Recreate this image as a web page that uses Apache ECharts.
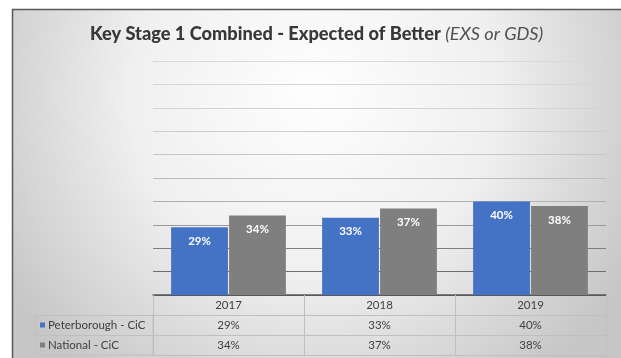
<!DOCTYPE html>
<html>
<head>
<meta charset="utf-8">
<script src="https://cdn.jsdelivr.net/npm/echarts@6/dist/echarts.min.js"></script>
<style>
  html, body { margin: 0; padding: 0; background: #ffffff; }
  #chart { width: 621px; height: 358px; }
</style>
</head>
<body>
<div id="chart"></div>
<script>
// Key Stage 1 results for children in care
const years = ['2017', '2018', '2019'];
const seriesNames = ['Peterborough - CiC', 'National - CiC'];
const peterborough = [29, 33, 40];
const national = [34, 37, 38];
const valueMin = 0;
const valueMax = 100;
const valueStep = 10;

const FONT = 'Lato, "Open Sans", sans-serif';
const TEXT = '#404040';
const TABLE_LINE = '#bfbfbf';
const pct = v => v + '%';

// Plot area and data-table layout
const PLOT = { left: 153, right: 15, top: 61, bottom: 63 };
const ROW_H = 20;
const TABLE_FONT = 11.5;

const chart = echarts.init(document.getElementById('chart'), null, { renderer: 'canvas' });

// grid lines fade from dark near the base to light at the top
const gridColors = ['#595959', '#6e6e6e', '#7e7e7e', '#9a9a9a', '#b0b0b0',
                    '#bdbdbd', '#c6c6c6', '#cdcdcd', '#d2d2d2', '#d6d6d6', '#d9d9d9'];

function tableAxis(offset, rows, showLine) {
  return {
    type: 'category',
    data: years,
    gridIndex: 0,
    position: 'bottom',
    offset: offset,
    axisLine: { show: showLine, lineStyle: { color: TABLE_LINE, width: 1 } },
    axisTick: { show: false },
    axisLabel: {
      show: !!rows,
      margin: 0,
      lineHeight: ROW_H,
      color: TEXT,
      fontFamily: FONT,
      fontSize: TABLE_FONT,
      formatter: (v, i) => rows ? pct(rows[i]) : ''
    },
    splitLine: { show: false }
  };
}

const option = {
  backgroundColor: '#ffffff',
  animation: false,
  textStyle: { fontFamily: FONT },
  title: {
    left: 85,
    top: 20,
    text: '{b|Key Stage 1 Combined - Expected of Better} {i|(EXS or GDS)}',
    textStyle: {
      rich: {
        b: { fontFamily: FONT, fontSize: 18.2, fontWeight: 900, color: '#383838' },
        i: { fontFamily: FONT, fontSize: 18.2, fontStyle: 'italic', fontWeight: 'normal', color: '#505050' }
      }
    }
  },
  legend: {
    orient: 'vertical',
    left: 40,
    top: PLOT.top + 234 + ROW_H,
    padding: 0,
    itemGap: 0,
    icon: 'rect',
    itemWidth: 5,
    itemHeight: 5,
    selectedMode: false,
    data: seriesNames,
    textStyle: { color: TEXT, fontFamily: FONT, fontSize: TABLE_FONT, lineHeight: ROW_H, padding: [0, 0, 0, -2] }
  },
  grid: { left: PLOT.left, right: PLOT.right, top: PLOT.top, bottom: PLOT.bottom, containLabel: false },
  xAxis: [
    {
      type: 'category',
      data: years,
      position: 'bottom',
      axisLine: { show: true, lineStyle: { color: '#595959', width: 1.5 } },
      axisTick: { show: true, inside: false, length: ROW_H * 3, lineStyle: { color: TABLE_LINE } },
      axisLabel: { margin: 0, lineHeight: ROW_H, color: TEXT, fontFamily: FONT, fontSize: TABLE_FONT },
      splitLine: { show: false }
    },
    tableAxis(ROW_H, peterborough, true),
    tableAxis(ROW_H * 2, national, true),
    tableAxis(ROW_H * 3, null, true)
  ],
  yAxis: {
    type: 'value',
    min: valueMin,
    max: valueMax,
    interval: valueStep,
    axisLine: { show: false },
    axisTick: { show: false },
    axisLabel: { show: false },
    splitLine: { show: true, lineStyle: { color: gridColors, width: 1 } }
  },
  graphic: [
    {
      // chart frame with soft radial shading
      type: 'rect',
      z: -10,
      silent: true,
      shape: { x: 12.5, y: 9.5, width: 640, height: 380 },
      style: {
        fill: new echarts.graphic.RadialGradient(0.47, 0.22, 0.95, [
          { offset: 0, color: '#fefefe' },
          { offset: 0.5, color: '#f0f0f0' },
          { offset: 1, color: '#c6c6c6' }
        ]),
        stroke: '#595959',
        lineWidth: 1.5
      }
    },
    {
      // legend column of the data table
      type: 'rect',
      z: 1,
      silent: true,
      shape: { x: 35.5, y: 295 + ROW_H + 0.5, width: PLOT.left - 35.5, height: ROW_H * 2 - 0.5 },
      style: { fill: 'none', stroke: TABLE_LINE, lineWidth: 1 }
    },
    {
      type: 'line',
      z: 1,
      silent: true,
      shape: { x1: 35.5, y1: 295 + ROW_H * 2 + 0.5, x2: PLOT.left, y2: 295 + ROW_H * 2 + 0.5 },
      style: { stroke: TABLE_LINE, lineWidth: 1 }
    }
  ],
  series: [
    {
      name: seriesNames[0],
      type: 'bar',
      data: peterborough,
      barGap: '2%',
      barCategoryGap: '24%',
      itemStyle: { color: '#4472c4' },
      label: {
        show: true, position: 'insideTop', distance: 8,
        color: '#ffffff', fontWeight: 'bold', fontSize: 11.5, fontFamily: FONT,
        formatter: p => pct(p.value)
      }
    },
    {
      name: seriesNames[1],
      type: 'bar',
      data: national,
      itemStyle: { color: '#7f7f7f' },
      label: {
        show: true, position: 'insideTop', distance: 8,
        color: '#ffffff', fontWeight: 'bold', fontSize: 11.5, fontFamily: FONT,
        formatter: p => pct(p.value)
      }
    }
  ]
};

chart.setOption(option);
</script>
</body>
</html>
